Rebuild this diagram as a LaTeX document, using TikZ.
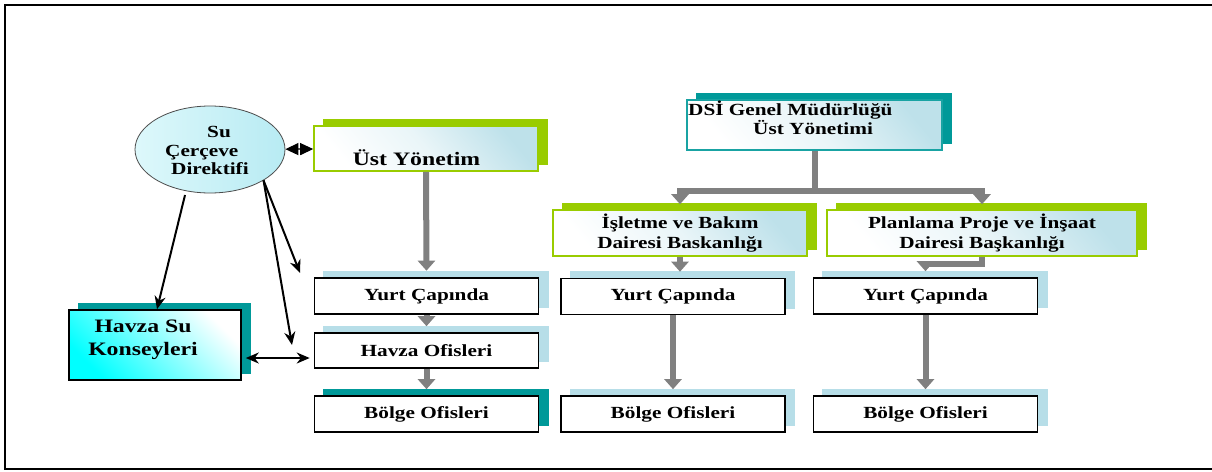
\documentclass[tikz,border=0pt]{standalone}
\usepackage{fontspec}
\setmainfont{Liberation Serif}[FakeStretch=1.25]
\usetikzlibrary{arrows.meta,shapes.geometric,backgrounds}
\definecolor{tealc}{HTML}{009999}
\definecolor{grn}{HTML}{99CC00}
\definecolor{lcy}{HTML}{B7DEE8}
\definecolor{gry}{HTML}{808080}
\definecolor{ellL}{HTML}{DDF8FB}
\definecolor{ellR}{HTML}{B8EBF3}
\definecolor{brc}{HTML}{00FFFF}
\begin{document}
\begin{tikzpicture}[x=1pt,y=-1pt,
  fA/.style={font=\fontsize{17}{20}\selectfont\bfseries},
  fB/.style={font=\fontsize{19}{23}\selectfont\bfseries},
  plainbox/.style={draw=black, line width=1.6pt, fill=white, minimum width=224pt, minimum height=36pt, inner sep=0pt, fA},
  gradbox/.style={line width=1.6pt, bottom color=white, top color=lcy!90!white, middle color=white!70!lcy, shading angle=-50, inner sep=0pt, fA, align=center},
  hskbox/.style={draw=black, line width=1.6pt, bottom color=brc, top color=white, shading angle=-45, minimum width=172pt, minimum height=70pt, inner sep=0pt},
  ellnode/.style={ellipse, draw=black!70, line width=0.8pt, minimum width=150pt, minimum height=87pt, inner sep=0pt, left color=ellL, right color=ellR},
  barrow/.style={line width=2pt, -{Stealth[length=13pt,width=11pt]}},
  bdarrow/.style={line width=2pt, {Stealth[length=13pt,width=11pt]}-{Stealth[length=13pt,width=11pt]}},
  garrow/.style={draw=gry, line width=6pt, -{Triangle[length=10pt,width=17pt]}},
  gline/.style={draw=gry, line width=6pt, line cap=rect}
]
\useasboundingbox (0,0) rectangle (1212,471);

% left part
\node[ellnode] (ell) at (210,149.5) {};
\node[align=left, anchor=west, inner sep=0pt, font=\fontsize{17}{18.5}\selectfont\bfseries] (ellt) at (165,150.5) {\hspace*{42pt}Su\\Çerçeve\\\hspace*{6pt}Direktifi};

\node[gradbox, draw=grn, minimum width=224pt, minimum height=45pt] (ust) at (426,148.5) {};
\node[fB, inner sep=0pt] (ustt) at (416.5,158) {Üst Yönetim};

\node[plainbox] (yurtA) at (426.5,296) {Yurt Çapında};
\node[plainbox, minimum height=35pt] (havofs) at (426.5,350.5) {Havza Ofisleri};
\node[plainbox] (bolgeA) at (426.5,414) {Bölge Ofisleri};

\node[hskbox] (hsk) at (155,345) {};
\node[fB, align=center, inner sep=0pt] (hskt) at (143,340) {Havza Su\\Konseyleri};

% right part
\node[gradbox, draw=tealc!90!white, minimum width=255pt, minimum height=50pt] (dsi) at (814.5,125) {};
\node[align=left, anchor=west, inner sep=0pt, font=\fontsize{17}{19}\selectfont\bfseries] (dsit) at (688,118) {DSİ Genel Müdürlüğü\\\hspace*{65pt}Üst Yönetimi};

\node[gradbox, draw=grn, minimum width=254pt, minimum height=46pt] (isl) at (680,233) {İşletme ve Bakım\\Dairesi Baskanlığı};
\node[gradbox, draw=grn, minimum width=310pt, minimum height=46pt] (pla) at (982,233) {Planlama Proje ve İnşaat\\Dairesi Başkanlığı};

\node[plainbox] (yurtB) at (673,296.5) {Yurt Çapında};
\node[plainbox] (yurtC) at (925.5,296) {Yurt Çapında};
\node[plainbox] (bolgeB) at (673,414) {Bölge Ofisleri};
\node[plainbox] (bolgeC) at (925.5,414) {Bölge Ofisleri};

% background and shadows
\begin{scope}[on background layer]
  \fill[white] (0,0) rectangle (1212,471);
  \foreach \n/\c in {ust/grn, yurtA/lcy, havofs/lcy, bolgeA/tealc, hsk/tealc, dsi/tealc, isl/grn, pla/grn, yurtB/lcy, yurtC/lcy, bolgeB/lcy, bolgeC/lcy}
    \fill[\c] ([shift={(9.5,-6.5)}]\n.south west) rectangle ([shift={(9.5,-6.5)}]\n.north east);
\end{scope}

% grey connectors
\draw[garrow] (ust.south) -- ([yshift=6.5pt]yurtA.north);
\draw[garrow] (yurtA.south) -- ([yshift=6pt]havofs.north);
\draw[garrow] (havofs.south) -- ([yshift=6pt]bolgeA.north);
\coordinate (jn) at (814.5,191);
\draw[garrow] (dsi.south) -- (jn) -| ([yshift=5pt]isl.north);
\draw[garrow] (jn) -| ([yshift=5pt]pla.north);
\draw[garrow] (isl.south) -- ([yshift=6pt]isl.south |- yurtB.north);
\coordinate (cj) at (925.5,264);
\draw[gline] ([yshift=-3pt]pla.south) |- (cj);
\draw[garrow] ([yshift=2pt]cj) -- ([yshift=6pt]yurtC.north);
\draw[garrow] (yurtB.south) -- ([yshift=6pt]bolgeB.north);
\draw[garrow] (yurtC.south) -- ([yshift=6pt]bolgeC.north);

% black connectors
\draw[line width=1.2pt, {Stealth[length=13pt,width=12pt,inset=0pt]}-{Stealth[length=13pt,width=12pt,inset=0pt]}] (ell) -- (ust);
\draw[barrow, shorten <=4pt] (ell.240) -- ([xshift=2pt]hsk.north);
\coordinate (c2) at (300,273);
\coordinate (c3) at (292,345);
\draw[barrow] (ell.330) -- (c2);
\draw[barrow] (ell.330) -- (c3);
\draw[bdarrow] ([shift={(4,13)}]hsk.east) -- ([shift={(-4,7.5)}]havofs.west);

% frame
\draw[line width=2pt] (1212,5) -- (5,5) -- (5,469) -- (1212,469);
\end{tikzpicture}
\end{document}
